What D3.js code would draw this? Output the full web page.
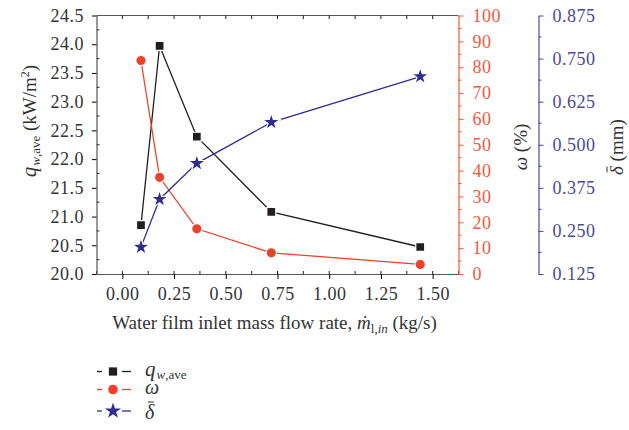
<!DOCTYPE html>
<html>
<head>
<meta charset="utf-8">
<script src="https://cdn.jsdelivr.net/npm/d3@7"></script>
<style>
  body { margin: 0; background: #fff; }
</style>
</head>
<body>
<div id="chart"></div>
<script>
// data
var flowRate = [0.09, 0.18, 0.36, 0.72, 1.44];      // kg/s
var heatFlux = [20.85, 23.97, 22.39, 21.08, 20.47];  // q_w,ave (kW/m2)
var omega    = [82.6, 37.4, 17.5, 8.2, 3.7];         // %
var delta    = [0.203, 0.342, 0.446, 0.565, 0.698];  // mm

var xTicks = [0, 0.25, 0.5, 0.75, 1.0, 1.25, 1.5];
var qTicks = [20, 20.5, 21, 21.5, 22, 22.5, 23, 23.5, 24, 24.5];
var wTicks = [0, 10, 20, 30, 40, 50, 60, 70, 80, 90, 100];
var dTicks = [0.125, 0.25, 0.375, 0.5, 0.625, 0.75, 0.875];

var FONT = "'Liberation Serif', 'DejaVu Serif', serif";
var black = "#231f20", red = "#ef4129", blue = "#2e2d8f";
var redAxis = "#f15a3c", blueAxis = "#4c4899", textCol = "#333";

var margin = { top: 15.5, left: 96.5 };
var width = 362, height = 258.5;

var svg = d3.select("#chart").append("svg")
    .attr("width", 629).attr("height", 430)
    .attr("font-family", FONT);
var g = svg.append("g")
    .attr("transform", "translate(" + margin.left + "," + margin.top + ")");

var x = d3.scaleLinear().domain([-0.125, 1.625]).range([0, width]);
var yq = d3.scaleLinear().domain([20, 24.5]).range([height, 0]);
var yw = d3.scaleLinear().domain([0, 100]).range([height, 0]);
var yd = d3.scaleLinear().domain([0.125, 0.875]).range([height, 0]);

function fmt(n) { return function(d) { return d3.format("." + n + "f")(d); }; }

// frame: top line
g.append("line").attr("x1", 0).attr("x2", width).attr("y1", 0).attr("y2", 0)
    .attr("stroke", "#555").attr("stroke-width", 1.2);

// minor ticks (inward) on left / bottom, small ticks on top
var minorX = d3.range(-0.125, 1.626, 0.125);
g.selectAll(".mxb").data(minorX).enter().append("line")
    .attr("x1", d => x(d)).attr("x2", d => x(d))
    .attr("y1", height).attr("y2", height - 3)
    .attr("stroke", black);
g.selectAll(".mxt").data(minorX.slice(1, -1)).enter().append("line")
    .attr("x1", d => x(d)).attr("x2", d => x(d))
    .attr("y1", 0).attr("y2", 3.5)
    .attr("stroke", black);
g.selectAll(".myl").data(d3.range(20.25, 24.5, 0.5)).enter().append("line")
    .attr("x1", 0).attr("x2", 3)
    .attr("y1", d => yq(d)).attr("y2", d => yq(d))
    .attr("stroke", black);

// bottom axis
var xAxis = g.append("g").attr("transform", "translate(0," + height + ")")
    .call(d3.axisBottom(x).tickValues(xTicks).tickFormat(fmt(2)).tickSize(5).tickSizeOuter(0).tickPadding(8));
xAxis.attr("font-family", FONT);
xAxis.select(".domain").attr("stroke", "#555").attr("stroke-width", 1.2);
xAxis.selectAll("text").attr("font-size", 18).attr("letter-spacing", 0.5).attr("fill", textCol);

// left axis
var qAxis = g.append("g")
    .call(d3.axisLeft(yq).tickValues(qTicks).tickFormat(fmt(1)).tickSize(4.5).tickSizeOuter(0).tickPadding(8));
qAxis.attr("font-family", FONT);
qAxis.select(".domain").attr("stroke", "#555").attr("stroke-width", 1.2);
qAxis.selectAll("text").attr("font-size", 18).attr("letter-spacing", 0.5).attr("fill", textCol);

// right omega axis
var wAxis = g.append("g").attr("transform", "translate(" + width + ",0)")
    .call(d3.axisRight(yw).tickValues(wTicks).tickSize(5).tickSizeOuter(0).tickPadding(9));
wAxis.attr("font-family", FONT);
wAxis.select(".domain").attr("stroke", redAxis).attr("stroke-width", 1.2);
wAxis.selectAll("line").attr("stroke", redAxis);
wAxis.selectAll("text").attr("font-size", 18).attr("letter-spacing", 0.5).attr("fill", redAxis);
wAxis.selectAll(".mw").data(d3.range(5, 100, 10)).enter().append("line")
    .attr("x1", 0).attr("x2", 3)
    .attr("y1", d => yw(d)).attr("y2", d => yw(d))
    .attr("stroke", redAxis);

// right delta axis
var dAxis = g.append("g").attr("transform", "translate(" + (width + 80) + ",0)")
    .call(d3.axisRight(yd).tickValues(dTicks).tickFormat(fmt(3)).tickSize(5).tickSizeOuter(0).tickPadding(9));
dAxis.attr("font-family", FONT);
dAxis.select(".domain").attr("stroke", blueAxis).attr("stroke-width", 1.2);
dAxis.selectAll("line").attr("stroke", blueAxis);
dAxis.selectAll("text").attr("font-size", 18).attr("letter-spacing", 0.5).attr("fill", blueAxis);
dAxis.selectAll(".md").data(d3.range(0.1875, 0.875, 0.125)).enter().append("line")
    .attr("x1", 0).attr("x2", 3)
    .attr("y1", d => yd(d)).attr("y2", d => yd(d))
    .attr("stroke", blueAxis);

// axis titles
var xt = svg.append("text").attr("x", margin.left + width / 2 - 3).attr("y", 329)
    .attr("text-anchor", "middle").attr("font-size", 19).attr("fill", textCol);
xt.append("tspan").text("Water film inlet mass flow rate, ");
xt.append("tspan").attr("font-style", "italic").text("ṁ");
xt.append("tspan").attr("font-size", 13).attr("dy", 4).text("l,");
xt.append("tspan").attr("font-size", 13).attr("font-style", "italic").text("in");
xt.append("tspan").attr("dy", -4).text(" (kg/s)");

var yt = svg.append("text").attr("transform", "translate(36,121) rotate(-90)")
    .attr("text-anchor", "middle").attr("font-size", 19).attr("fill", textCol);
yt.append("tspan").attr("font-style", "italic").attr("font-size", 21).text("q");
yt.append("tspan").attr("font-size", 13).attr("dy", 4).attr("dx", 1).attr("font-style", "italic").text("w");
yt.append("tspan").attr("font-size", 13).text(",ave");
yt.append("tspan").attr("dy", -4).text(" (kW/m");
yt.append("tspan").attr("font-size", 12).attr("dy", -7).text("2");
yt.append("tspan").attr("dy", 7).text(")");

var wt = svg.append("text").attr("transform", "translate(527,147) rotate(-90)")
    .attr("text-anchor", "middle").attr("font-size", 19).attr("fill", textCol);
wt.append("tspan").attr("font-style", "italic").text("ω");
wt.append("tspan").text(" (%)");

// delta with a bar drawn above it
function deltaBar(textSel) {
    var r = textSel.node().getExtentOfChar(0);
    var parent = d3.select(textSel.node().parentNode);
    parent.append("line")
        .attr("x1", r.x + r.width * 0.3).attr("x2", r.x + r.width * 0.95)
        .attr("y1", r.y + 1).attr("y2", r.y + 1)
        .attr("stroke", textSel.attr("fill")).attr("stroke-width", 1);
}
var dg = svg.append("g").attr("transform", "translate(623,147) rotate(-90)");
var dt = dg.append("text").attr("x", -28).attr("y", 0)
    .attr("font-size", 19).attr("fill", textCol);
dt.append("tspan").attr("font-style", "italic").text("δ");
dt.append("tspan").text(" (mm)");
deltaBar(dt);

// series
var series = [
    { key: "q", vals: heatFlux, y: yq, color: black, shape: d3.symbolSquare, size: 80 },
    { key: "w", vals: omega, y: yw, color: red, shape: d3.symbolCircle, size: 85 },
    { key: "d", vals: delta, y: yd, color: blue, shape: d3.symbolStar, size: 95 }
];

series.forEach(function(s) {
    var pts = flowRate.map((f, i) => [f, s.vals[i]]);
    g.append("path").datum(pts)
        .attr("fill", "none").attr("stroke", s.color).attr("stroke-width", 1.3)
        .attr("d", d3.line().x(d => x(d[0])).y(d => s.y(d[1])));
    g.selectAll(".pt-" + s.key).data(pts).enter().append("path")
        .attr("d", d3.symbol().type(s.shape).size(s.size))
        .attr("transform", d => "translate(" + x(d[0]) + "," + s.y(d[1]) + ")")
        .attr("fill", s.color).attr("stroke", "#fff").attr("stroke-width", 1.2);
});

// legend
var legendY = [371.5, 389.5, 411];
var leg = svg.append("g");
series.forEach(function(s, i) {
    var ly = legendY[i];
    leg.append("line").attr("x1", 97).attr("x2", 102).attr("y1", ly).attr("y2", ly)
        .attr("stroke", s.color).attr("stroke-width", 1.3);
    leg.append("line").attr("x1", 122).attr("x2", 131).attr("y1", ly).attr("y2", ly)
        .attr("stroke", s.color).attr("stroke-width", 1.3);
    leg.append("path").attr("d", d3.symbol().type(s.shape).size(s.size * 0.85))
        .attr("transform", "translate(113," + ly + ")")
        .attr("fill", s.color);
});
var l1 = leg.append("text").attr("x", 145).attr("y", 376).attr("font-size", 19).attr("fill", textCol);
l1.append("tspan").attr("font-style", "italic").attr("font-size", 21).text("q");
l1.append("tspan").attr("font-size", 13).attr("dy", 3).attr("dx", 1).attr("font-style", "italic").text("w");
l1.append("tspan").attr("font-size", 13).text(",ave");
leg.append("text").attr("x", 145).attr("y", 394).attr("font-size", 20).attr("fill", textCol)
    .attr("font-style", "italic").text("ω");
var lg3 = leg.append("g");
var l3 = lg3.append("text").attr("x", 145).attr("y", 419).attr("font-size", 20).attr("fill", textCol);
l3.append("tspan").attr("font-style", "italic").text("δ");
deltaBar(l3);
</script>
</body>
</html>
